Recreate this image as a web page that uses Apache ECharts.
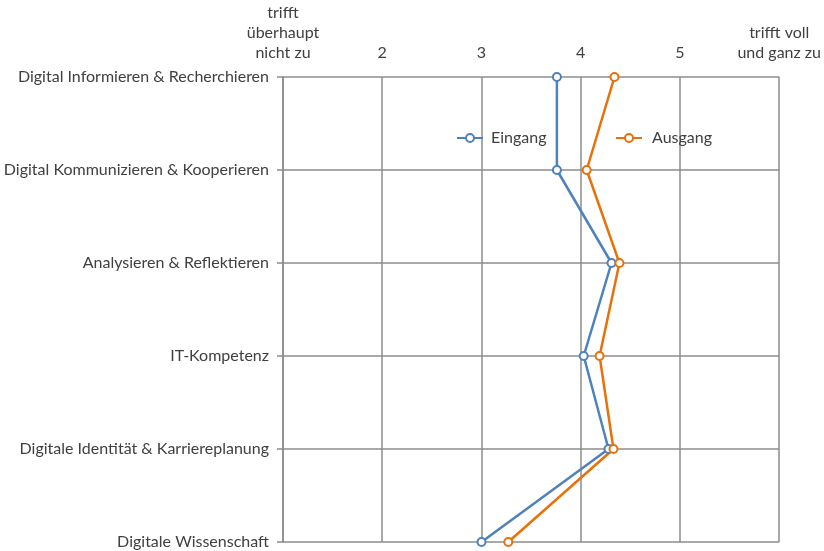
<!DOCTYPE html>
<html><head><meta charset="utf-8">
<script src="https://cdn.jsdelivr.net/npm/echarts@6/dist/echarts.min.js"></script>
<style>html,body{margin:0;padding:0;background:#fff}#c{width:824px;height:551px}</style>
</head><body><div id="c"></div>
<script>
const categories = ["Digital Informieren & Recherchieren","Digital Kommunizieren & Kooperieren","Analysieren & Reflektieren","IT-Kompetenz","Digitale Identität & Karriereplanung","Digitale Wissenschaft"];
const eingang = [3.76, 3.76, 4.31, 4.03, 4.28, 3.00];
const ausgang = [4.34, 4.06, 4.39, 4.19, 4.33, 3.27];
const tickLabels = {1:"trifft\nüberhaupt\nnicht zu",2:"2",3:"3",4:"4",5:"5",6:"trifft voll\nund ganz zu"};

const font = "Lato";
const chart = echarts.init(document.getElementById('c'));
const mk = (arr) => arr.map((v,i)=>[v, categories[i]]);
chart.setOption({
  animation:false,
  textStyle:{fontFamily:font},
  grid:{left:283,right:44,top:77,bottom:9,containLabel:false},
  legend:[
    {data:['Eingang'],left:451,top:125,itemWidth:26,itemHeight:10,textStyle:{fontFamily:font,fontSize:16,color:'#404040',padding:[0,0,0,3]}},
    {data:['Ausgang'],left:610,top:125,itemWidth:26,itemHeight:10,textStyle:{fontFamily:font,fontSize:16,color:'#404040',padding:[0,0,0,5]}}
  ],
  xAxis:{type:'value',position:'top',min:1,max:6,interval:1,
    axisLine:{show:false},axisTick:{show:false},
    axisLabel:{margin:14,fontFamily:font,fontSize:16,color:'#404040',lineHeight:20,formatter:v=>tickLabels[v]||''},
    splitLine:{show:true,lineStyle:{color:'#8c8c8c',width:1.5}}},
  yAxis:{type:'category',inverse:true,boundaryGap:false,data:categories,
    axisLine:{show:true,lineStyle:{color:'#8c8c8c',width:1.5}},
    axisTick:{show:true,length:6,lineStyle:{color:'#8c8c8c',width:1.5}},
    axisLabel:{margin:14,fontFamily:font,fontSize:16,color:'#404040'},
    splitLine:{show:true,lineStyle:{color:'#8c8c8c',width:1.5}}},
  series:[
    {name:'Eingang',type:'line',data:mk(eingang),symbol:'emptyCircle',symbolSize:8,
      itemStyle:{color:'#4F81BD',borderWidth:2},lineStyle:{color:'#4F81BD',width:2.5}},
    {name:'Ausgang',type:'line',data:mk(ausgang),symbol:'emptyCircle',symbolSize:8,
      itemStyle:{color:'#E8710A',borderWidth:2},lineStyle:{color:'#E8710A',width:2.5}}
  ]
});
</script></body></html>
